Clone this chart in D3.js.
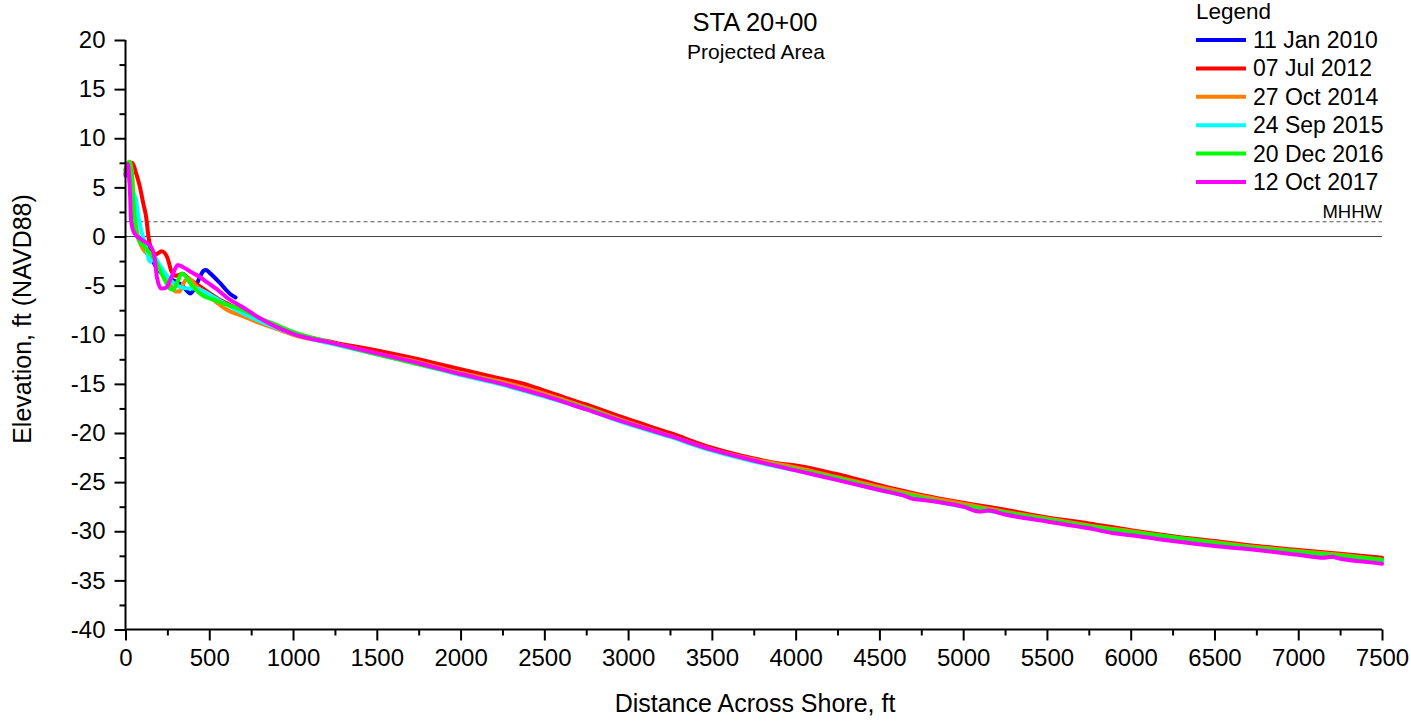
<!DOCTYPE html>
<html><head><meta charset="utf-8">
<script src="https://cdn.jsdelivr.net/npm/d3@7"></script>
<style>body{margin:0;background:#fff}svg text{font-family:"Liberation Sans",Arial,sans-serif;fill:#000}</style>
</head><body><svg id="c" width="1411" height="722"></svg>
<script>
const seriesNames = ["11 Jan 2010","07 Jul 2012","27 Oct 2014","24 Sep 2015","20 Dec 2016","12 Oct 2017"];
const seriesColors = ["#0000ff","#ff0000","#ff8000","#00ffff","#00ff00","#ff00ff"];
const xTicks = [0,500,1000,1500,2000,2500,3000,3500,4000,4500,5000,5500,6000,6500,7000,7500];
const yTicks = [20,15,10,5,0,-5,-10,-15,-20,-25,-30,-35,-40];
const mhhw = 1.5;

const jan2010 = [[0,6.4],[8,6.9],[16,7.2],[33,4.0],[44,1.3],[64,0.3],[104,-0.5],[134,-1.1],[173,-2.8],[243,-4.1],[302,-4.6],[340,-5.0],[365,-5.5],[385,-5.8],[412,-5.3],[442,-4.2],[465,-3.5],[480,-3.4],[502,-3.7],[562,-4.7],[621,-5.8],[657,-6.2]];
const jul2012 = [[0,6.8],[14,7.4],[40,7.5],[64,6.4],[84,5.2],[107,3.3],[123,2.0],[137,0.0],[147,-0.9],[165,-1.6],[183,-1.8],[215,-1.5],[235,-1.7],[253,-2.3],[273,-3.5],[302,-4.0],[322,-3.9],[342,-3.8],[372,-4.2],[420,-4.8],[480,-5.5],[550,-6.3],[650,-7.2],[750,-8.0],[850,-8.8],[1000,-9.8],[1250,-10.8],[1500,-11.6],[1750,-12.5],[1900,-13.1],[2000,-13.5],[2250,-14.5],[2400,-15.1],[2500,-15.7],[2750,-17.1],[2900,-18.0],[3000,-18.6],[3250,-20.0],[3500,-21.5],[3750,-22.6],[3900,-23.1],[4000,-23.3],[4150,-23.8],[4250,-24.2],[4500,-25.3],[4750,-26.3],[5000,-27.1],[5250,-27.8],[5500,-28.6],[5750,-29.2],[6000,-29.9],[6250,-30.5],[6500,-31.0],[6750,-31.5],[7000,-31.9],[7250,-32.3],[7500,-32.7]];
const oct2014 = [[0,6.8],[12,7.4],[25,7.6],[40,6.2],[50,3.0],[65,0.8],[90,-0.8],[120,-1.6],[160,-2.2],[200,-3.0],[240,-4.2],[270,-5.0],[300,-5.6],[322,-5.6],[345,-4.8],[370,-4.3],[390,-4.4],[420,-5.0],[460,-5.6],[520,-6.4],[600,-7.4],[700,-8.1],[800,-8.8],[900,-9.4],[1000,-10.0],[1250,-10.9],[1500,-11.9],[1750,-12.8],[2000,-13.9],[2250,-14.8],[2500,-16.0],[2750,-17.4],[3000,-18.9],[3250,-20.3],[3500,-21.7],[3750,-22.7],[4000,-23.5],[4250,-24.5],[4500,-25.5],[4750,-26.4],[5000,-27.2],[5250,-28.0],[5500,-28.7],[5750,-29.4],[6000,-30.0],[6250,-30.6],[6500,-31.1],[6750,-31.6],[7000,-32.0],[7250,-32.4],[7500,-32.9]];
const sep2015 = [[0,6.2],[10,7.0],[22,6.5],[35,5.0],[50,4.3],[64,3.6],[74,2.3],[94,0.6],[124,-1.1],[140,-2.4],[150,-2.6],[165,-1.9],[200,-2.8],[243,-3.9],[290,-4.8],[340,-5.2],[382,-5.3],[422,-5.3],[470,-5.6],[520,-6.1],[600,-6.9],[700,-7.8],[800,-8.6],[900,-9.3],[1000,-9.9],[1250,-11.0],[1500,-12.0],[1750,-13.0],[2000,-14.1],[2250,-15.1],[2500,-16.3],[2750,-17.6],[3000,-19.1],[3250,-20.4],[3500,-21.8],[3750,-22.9],[4000,-23.8],[4250,-24.7],[4500,-25.8],[4750,-26.7],[5000,-27.5],[5250,-28.2],[5500,-28.9],[5750,-29.6],[6000,-30.3],[6250,-30.8],[6500,-31.4],[6750,-31.8],[7000,-32.3],[7250,-32.7],[7500,-33.1]];
const dec2016 = [[0,6.6],[10,7.2],[22,7.6],[35,6.8],[48,3.4],[60,1.0],[80,-0.4],[110,-1.0],[150,-1.8],[180,-2.5],[210,-3.6],[240,-4.6],[265,-5.3],[285,-5.4],[310,-4.6],[335,-3.8],[352,-3.9],[380,-4.6],[420,-5.4],[460,-6.0],[520,-6.4],[600,-6.9],[700,-7.5],[800,-8.3],[900,-9.0],[1000,-9.7],[1250,-10.9],[1500,-12.0],[1750,-13.0],[2000,-14.0],[2250,-15.0],[2500,-16.2],[2750,-17.5],[3000,-19.0],[3250,-20.3],[3500,-21.7],[3750,-22.8],[4000,-23.7],[4250,-24.6],[4500,-25.7],[4750,-26.6],[5000,-27.4],[5250,-28.1],[5500,-28.8],[5750,-29.5],[6000,-30.1],[6250,-30.6],[6500,-31.2],[6750,-31.7],[7000,-32.1],[7250,-32.5],[7500,-32.9]];
const oct2017 = [[0,6.2],[8,6.8],[14,7.4],[22,6.0],[28,4.0],[33,1.6],[54,0.3],[104,-0.4],[154,-1.1],[173,-2.1],[187,-4.1],[213,-5.3],[243,-5.2],[265,-4.5],[283,-3.8],[312,-2.9],[342,-3.1],[400,-3.7],[442,-4.1],[490,-4.7],[541,-5.3],[620,-6.4],[700,-7.2],[800,-8.3],[900,-9.2],[1000,-9.9],[1250,-10.9],[1500,-11.9],[1750,-12.9],[2000,-14.0],[2250,-15.0],[2500,-16.2],[2750,-17.6],[3000,-19.0],[3250,-20.3],[3500,-21.7],[3750,-22.8],[4000,-23.8],[4250,-24.8],[4500,-25.8],[4650,-26.4],[4700,-26.7],[4750,-26.8],[5000,-27.5],[5100,-28.0],[5150,-27.9],[5250,-28.3],[5500,-29.0],[5750,-29.7],[5900,-30.2],[6000,-30.4],[6250,-31.0],[6500,-31.5],[6750,-31.9],[7000,-32.4],[7150,-32.7],[7200,-32.6],[7250,-32.8],[7400,-33.1],[7500,-33.3]];
const seriesData = [jan2010, jul2012, oct2014, sep2015, dec2016, oct2017];

const svg = d3.select("#c");
const x = d3.scaleLinear().domain([0,7500]).range([125.5,1382]);
const y = d3.scaleLinear().domain([-40,20]).range([629.5,40]);
const fmt = d => String(d);

const xMinor = d3.range(250,7500,500);
const yMinor = d3.range(-37.5,20,5);

// zero line and MHHW
svg.append("line").attr("x1",x(0)).attr("x2",x(7500)).attr("y1",y(0)).attr("y2",y(0))
  .attr("stroke","#444").attr("stroke-width",1.2);
svg.append("line").attr("x1",x(0)).attr("x2",x(7500)).attr("y1",y(mhhw)).attr("y2",y(mhhw))
  .attr("stroke","#555").attr("stroke-width",1.2).attr("stroke-dasharray","4,3");
svg.append("text").attr("x",x(7500)).attr("y",y(mhhw)-4).attr("text-anchor","end")
  .attr("font-size",18.5).text("MHHW");

// lines
const line = d3.line().x(d=>x(d[0])).y(d=>y(d[1])).curve(d3.curveMonotoneX);
seriesData.forEach((s,i)=>{
  svg.append("path").datum(s).attr("d",line).attr("fill","none")
    .attr("stroke",seriesColors[i]).attr("stroke-width",4)
    .attr("stroke-linejoin","round").attr("stroke-linecap","round");
});

// axes
const xAxis = d3.axisBottom(x).tickValues(xTicks).tickSize(11).tickPadding(8).tickFormat(fmt);
const gx = svg.append("g").attr("transform",`translate(0,${y(-40)})`).call(xAxis);
svg.append("g").attr("transform",`translate(0,${y(-40)})`)
  .call(d3.axisBottom(x).tickValues(xMinor).tickSize(6).tickFormat(""))
  .select(".domain").remove();
const yAxis = d3.axisLeft(y).tickValues(yTicks).tickSize(11).tickPadding(9).tickFormat(fmt);
const gy = svg.append("g").attr("transform",`translate(${x(0)},0)`).call(yAxis);
svg.append("g").attr("transform",`translate(${x(0)},0)`)
  .call(d3.axisLeft(y).tickValues(yMinor).tickSize(6).tickFormat(""))
  .select(".domain").remove();
svg.selectAll(".domain").attr("stroke","#000").attr("stroke-width",2);
svg.selectAll(".tick line").attr("stroke","#000").attr("stroke-width",2);
svg.selectAll(".tick text").attr("font-family","Liberation Sans, Arial, sans-serif").attr("fill","#000").attr("font-size",24);
gx.select(".domain").attr("d",`M${x(0)},0H${x(7500)}`);
gy.select(".domain").attr("d",`M0,${y(-40)}V${y(20)}`);

// titles
svg.append("text").attr("x",755).attr("y",31).attr("text-anchor","middle").attr("font-size",25.5).text("STA 20+00");
svg.append("text").attr("x",756).attr("y",59).attr("text-anchor","middle").attr("font-size",21).text("Projected Area");
svg.append("text").attr("x",755).attr("y",712).attr("text-anchor","middle").attr("font-size",25).text("Distance Across Shore, ft");
svg.append("text").attr("transform","translate(31,319) rotate(-90)").attr("text-anchor","middle").attr("font-size",25).text("Elevation, ft (NAVD88)");

// legend
svg.append("text").attr("x",1196).attr("y",19).attr("font-size",22.5).text("Legend");
seriesNames.forEach((n,i)=>{
  const yy = 40 + i*28.4;
  svg.append("line").attr("x1",1196).attr("x2",1246).attr("y1",yy).attr("y2",yy)
    .attr("stroke",seriesColors[i]).attr("stroke-width",4);
  svg.append("text").attr("x",1253).attr("y",yy+8).attr("font-size",23).text(n);
});
</script></body></html>
